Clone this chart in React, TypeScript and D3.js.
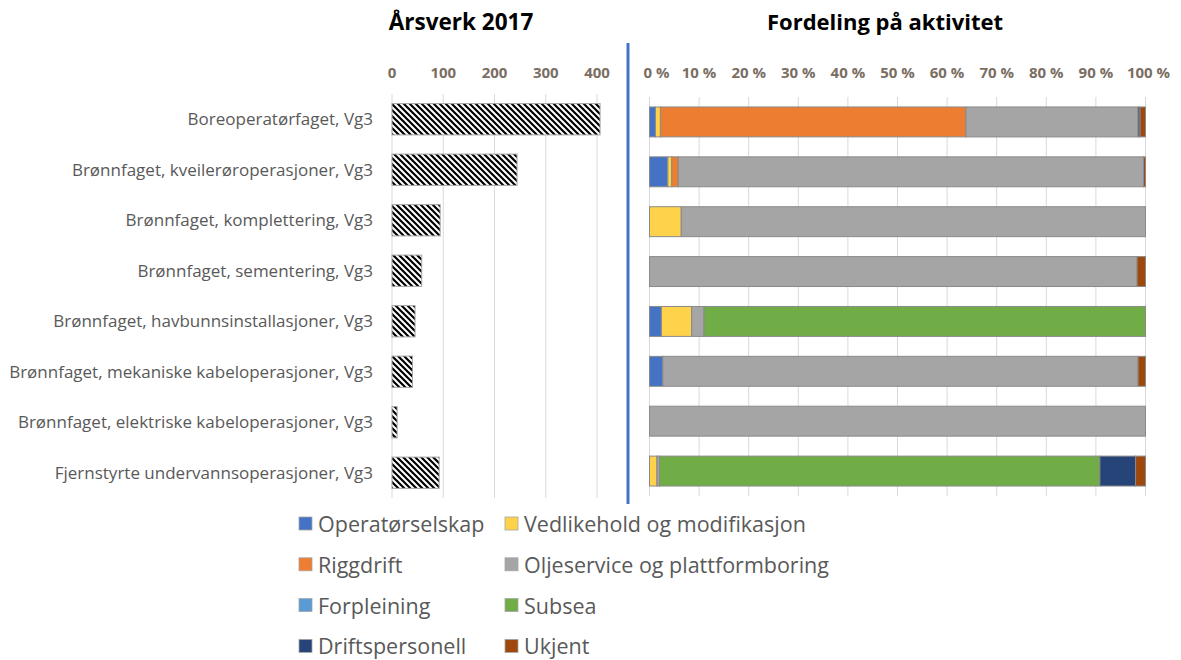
import React from "react";
import * as d3 from "d3";

const categories = [
  "Boreoperatørfaget, Vg3",
  "Brønnfaget, kveilerøroperasjoner, Vg3",
  "Brønnfaget, komplettering, Vg3",
  "Brønnfaget, sementering, Vg3",
  "Brønnfaget, havbunnsinstallasjoner, Vg3",
  "Brønnfaget, mekaniske kabeloperasjoner, Vg3",
  "Brønnfaget, elektriske kabeloperasjoner, Vg3",
  "Fjernstyrte undervannsoperasjoner, Vg3",
];

const arsverk = [406, 244, 94, 58, 45, 40, 10, 92];
const leftTicks = [0, 100, 200, 300, 400];
const rightTicks = [0, 10, 20, 30, 40, 50, 60, 70, 80, 90, 100];

const seriesNames = [
  "Operatørselskap",
  "Vedlikehold og modifikasjon",
  "Riggdrift",
  "Oljeservice og plattformboring",
  "Forpleining",
  "Subsea",
  "Driftspersonell",
  "Ukjent",
];
const seriesColors = ["#4472C4", "#FFD24C", "#ED7D31", "#A5A5A5", "#5B9BD5", "#70AD47", "#264478", "#9E480E"];

const operatorselskap = [1.2, 3.7, 0, 0, 2.4, 2.7, 0, 0];
const vedlikehold = [1.0, 0.8, 6.4, 0, 6.1, 0, 0, 1.5];
const riggdrift = [61.6, 1.3, 0, 0, 0, 0, 0, 0];
const oljeservice = [34.7, 93.8, 93.6, 98.3, 2.5, 95.8, 100, 0.5];
const forpleining = [0, 0, 0, 0, 0, 0, 0, 0];
const subsea = [0, 0, 0, 0, 89.0, 0, 0, 88.8];
const driftspersonell = [0.4, 0, 0, 0, 0, 0, 0, 7.2];
const ukjent = [1.1, 0.4, 0, 1.7, 0, 1.5, 0, 2.0];

const seriesValues = [operatorselskap, vedlikehold, riggdrift, oljeservice, forpleining, subsea, driftspersonell, ukjent];

const FONT = "'Open Sans', 'Noto Sans', sans-serif";

export default function App() {
  const W = 1181, H = 660;

  const xL = d3.scaleLinear().domain([0, 400]).range([392, 597]);
  const yL = d3.scaleBand<string>().domain(categories).range([94, 498]).paddingInner(0.38).paddingOuter(0.19);

  const xR = d3.scaleLinear().domain([0, 100]).range([649.5, 1145.5]);
  const yR = d3.scaleBand<string>().domain(categories).range([97, 496]).paddingInner(0.4).paddingOuter(0.2);

  const rows = categories.map((c, i) => {
    const o: any = { cat: c };
    seriesNames.forEach((s, j) => (o[s] = seriesValues[j][i]));
    return o;
  });
  const stacked = d3.stack<any>().keys(seriesNames)(rows);

  const tickColor = "#7a6e63";
  const labelColor = "#595959";

  return (
    <svg width={W} height={H} style={{ position: "absolute", left: 0, top: 0, background: "#fff" }} fontFamily={FONT}>
      <defs>
        <pattern id="diag" width={6} height={6} patternUnits="userSpaceOnUse">
          <rect width={6} height={6} fill="#fff" />
          <path d="M0,0 L6,6 M-3,3 L3,9 M3,-3 L9,3" stroke="#000" strokeWidth={2.2} />
        </pattern>
      </defs>

      {/* Titles */}
      <text x={461} y={30} textAnchor="middle" fontWeight="bold" fontSize={22.5} fill="#000">Årsverk 2017</text>
      <text x={885} y={30} textAnchor="middle" fontWeight="bold" fontSize={22} fill="#000">Fordeling på aktivitet</text>

      {/* Left gridlines */}
      {leftTicks.map((t) => (
        <g key={"lt" + t}>
          <line x1={xL(t)} x2={xL(t)} y1={94} y2={498} stroke="#d9d9d9" strokeWidth={1} />
          <text x={xL(t)} y={78} textAnchor="middle" fontWeight="bold" fontSize={15} fill={tickColor}>{t}</text>
        </g>
      ))}

      {/* Category labels */}
      {categories.map((c) => (
        <text key={"c" + c} x={373} y={yL(c)! + yL.bandwidth() / 2 + 6} textAnchor="end" fontSize={17} fill={labelColor}>{c}</text>
      ))}

      {/* Left bars */}
      {categories.map((c, i) => (
        <rect key={"lb" + c} x={xL(0)} y={yL(c)!} width={xL(arsverk[i]) - xL(0)} height={yL.bandwidth()} fill="url(#diag)" stroke="#a6a6a6" strokeWidth={1} />
      ))}

      {/* Divider */}
      <line x1={628} x2={628} y1={43} y2={504} stroke="#4472C4" strokeWidth={3} />

      {/* Right gridlines */}
      {rightTicks.map((t) => (
        <g key={"rt" + t}>
          <line x1={xR(t)} x2={xR(t)} y1={97} y2={496} stroke="#d9d9d9" strokeWidth={1} />
          <text x={xR(t) + (t === 0 ? 7 : t === 100 ? 3 : 0)} y={78} textAnchor="middle" fontWeight="bold" fontSize={15} fill={tickColor}>{t} %</text>
        </g>
      ))}

      {/* Right stacked bars */}
      {stacked.map((layer, j) => (
        <g key={"s" + j} fill={seriesColors[j]}>
          {layer.map((d, i) =>
            d[1] - d[0] > 0 ? (
              <rect key={i} x={xR(d[0])} y={yR(categories[i])!} width={xR(d[1]) - xR(d[0])} height={yR.bandwidth()} stroke="#8a8a8a" strokeWidth={1} />
            ) : null
          )}
        </g>
      ))}

      {/* Legend */}
      {seriesNames.map((s, j) => {
        const col = j % 2;
        const row = Math.floor(j / 2);
        const x = col === 0 ? 299 : 505;
        const y = 524 + row * 40.8;
        return (
          <g key={"lg" + s}>
            <rect x={x} y={y - 7} width={13} height={13} fill={seriesColors[j]} stroke="#a6a6a6" strokeWidth={0.8} />
            <text x={x + 19} y={y + 8} fontSize={21.5} fill={labelColor}>{s}</text>
          </g>
        );
      })}
    </svg>
  );
}
